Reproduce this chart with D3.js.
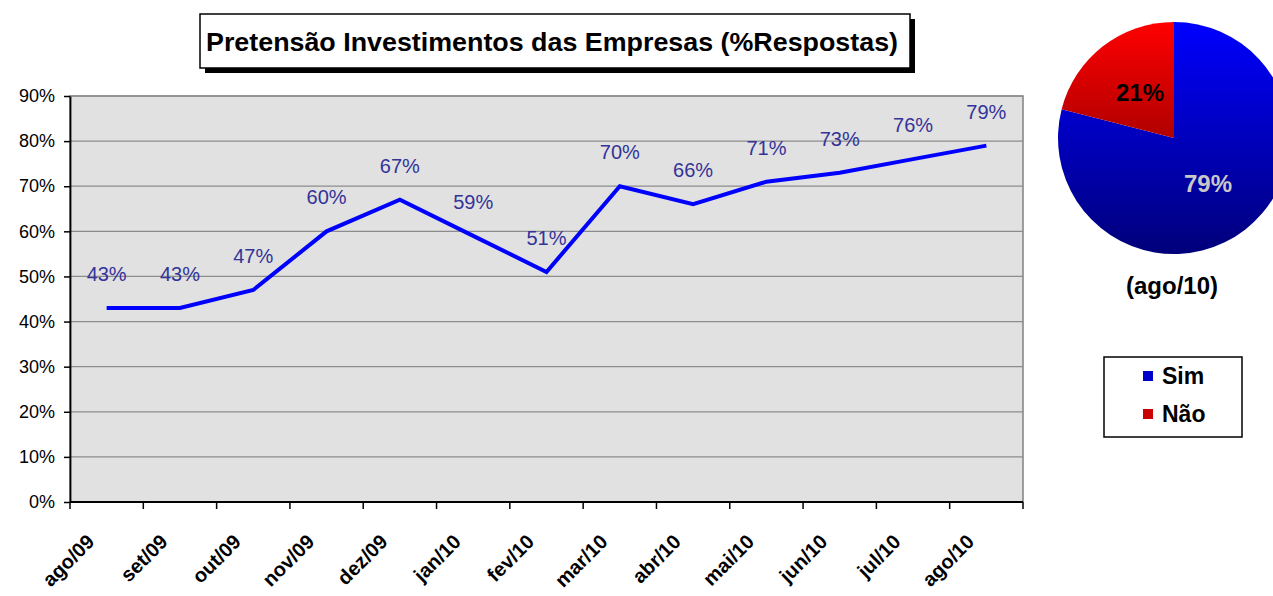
<!DOCTYPE html>
<html>
<head>
<meta charset="utf-8">
<script src="https://cdn.jsdelivr.net/npm/d3@7"></script>
<style>
  body { margin: 0; background: #fff; }
  text { font-family: "Liberation Sans", Arial, sans-serif; }
</style>
</head>
<body>
<svg id="chart"></svg>
<script>
// chart size
const width = 1273;
const height = 596;

// data
const months = ['ago/09', 'set/09', 'out/09', 'nov/09', 'dez/09', 'jan/10', 'fev/10',
                'mar/10', 'abr/10', 'mai/10', 'jun/10', 'jul/10', 'ago/10'];
const values = [43, 43, 47, 60, 67, 59, 51, 70, 66, 71, 73, 76, 79];
const yTicks = [0, 10, 20, 30, 40, 50, 60, 70, 80, 90];
const pieLabels = ['Sim', 'Não'];
const pieValues = [79, 21];

const plot = { left: 70, right: 1023, top: 96, bottom: 502 };

const svg = d3.select('svg#chart').attr('width', width).attr('height', height);

// gradients
const defs = svg.append('defs');
function grad(id, c1, c2, y1, y2) {
    const g = defs.append('linearGradient').attr('id', id)
        .attr('gradientUnits', 'userSpaceOnUse')
        .attr('x1', 0).attr('x2', 0).attr('y1', y1).attr('y2', y2);
    g.append('stop').attr('offset', 0).attr('stop-color', c1);
    g.append('stop').attr('offset', 1).attr('stop-color', c2);
}

//scales
const x = d3.scaleBand().domain(months).range([plot.left, plot.right]);
const y = d3.scaleLinear().domain([0, 90]).range([plot.bottom, plot.top]);

// plot background
svg.append('rect')
    .attr('x', plot.left).attr('y', plot.top)
    .attr('width', plot.right - plot.left).attr('height', plot.bottom - plot.top)
    .attr('fill', '#e1e1e1').attr('stroke', '#808080').attr('stroke-width', 1.5);

// gridlines
svg.append('g').selectAll('line')
    .data(yTicks.slice(1))
    .enter().append('line')
    .attr('x1', plot.left).attr('x2', plot.right)
    .attr('y1', d => y(d)).attr('y2', d => y(d))
    .attr('stroke', '#8c8c8c').attr('stroke-width', 1.2);

// y axis
const yAxis = svg.append('g')
    .attr('transform', `translate(${plot.left},0)`)
    .call(d3.axisLeft(y).tickValues(yTicks).tickFormat(d => d + '%').tickSize(6).tickSizeOuter(0));
yAxis.select('.domain').attr('stroke', '#000').attr('stroke-width', 1.8);
yAxis.selectAll('.tick line').attr('stroke', '#000').attr('stroke-width', 1.5);
yAxis.selectAll('.tick text')
    .attr('font-size', 18).attr('fill', '#000').attr('x', -15)
    .style('font-family', '"Liberation Sans", Arial, sans-serif');

// x axis ticks at band edges
const edges = months.map(m => x(m)).concat([plot.right]);
const xAxis = svg.append('g');
xAxis.append('line')
    .attr('x1', plot.left).attr('x2', plot.right)
    .attr('y1', plot.bottom).attr('y2', plot.bottom)
    .attr('stroke', '#000').attr('stroke-width', 1.8);
xAxis.selectAll('line.tk')
    .data(edges)
    .enter().append('line').attr('class', 'tk')
    .attr('x1', d => d).attr('x2', d => d)
    .attr('y1', plot.bottom).attr('y2', plot.bottom + 7)
    .attr('stroke', '#000').attr('stroke-width', 1.5);
xAxis.selectAll('text')
    .data(months)
    .enter().append('text')
    .attr('transform', d => `translate(${x(d) + x.bandwidth() / 2 - 16},${plot.bottom + 36}) rotate(-45)`)
    .attr('text-anchor', 'end')
    .attr('dy', '0.35em')
    .attr('font-size', 20).attr('font-weight', 'bold')
    .text(d => d);

// line
const line = d3.line()
    .x((d, i) => x(months[i]) + x.bandwidth() / 2)
    .y(d => y(d));
svg.append('path')
    .datum(values)
    .attr('d', line)
    .attr('fill', 'none').attr('stroke', '#0000ff').attr('stroke-width', 4)
    .attr('stroke-linejoin', 'miter');

// data labels
svg.append('g').selectAll('text')
    .data(values)
    .enter().append('text')
    .attr('x', (d, i) => x(months[i]) + x.bandwidth() / 2)
    .attr('y', d => y(d) - 27)
    .attr('text-anchor', 'middle')
    .attr('font-size', 20).attr('fill', '#333399')
    .text(d => d + '%');

// title box
svg.append('rect')
    .attr('x', 205).attr('y', 19).attr('width', 710).attr('height', 54)
    .attr('fill', '#000');
svg.append('rect')
    .attr('x', 200).attr('y', 14).attr('width', 710).attr('height', 54)
    .attr('fill', '#fff').attr('stroke', '#000').attr('stroke-width', 1.5);
svg.append('text')
    .attr('x', 552).attr('y', 51)
    .attr('text-anchor', 'middle')
    .attr('font-size', 26).attr('font-weight', 'bold')
    .attr('textLength', 692).attr('lengthAdjust', 'spacingAndGlyphs')
    .text('Pretensão Investimentos das Empresas (%Respostas)');

// pie
const pc = { x: 1174, y: 138, r: 116 };
grad('gBlue', '#0000ff', '#00007a', pc.y - pc.r, pc.y + pc.r);
grad('gRed', '#ff0000', '#600000', pc.y - pc.r, pc.y + pc.r);
const pie = d3.pie().sort(null)(pieValues);
const pieG = svg.append('g');
// gradient is in user space, so draw the slices in page coords
pieG.selectAll('path')
    .data(pie)
    .enter().append('path')
    .attr('d', d => {
        const p = d3.path();
        const a0 = d.startAngle - Math.PI / 2, a1 = d.endAngle - Math.PI / 2;
        p.moveTo(pc.x, pc.y);
        p.arc(pc.x, pc.y, pc.r, a0, a1);
        p.closePath();
        return p.toString();
    })
    .attr('fill', (d, i) => i === 0 ? 'url(#gBlue)' : 'url(#gRed)');
pieG.selectAll('text')
    .data(pie)
    .enter().append('text')
    .attr('x', (d, i) => i === 0 ? 1208 : 1140)
    .attr('y', (d, i) => i === 0 ? 192 : 101)
    .attr('text-anchor', 'middle')
    .attr('font-size', 24).attr('font-weight', 'bold')
    .attr('fill', (d, i) => i === 0 ? '#c8c8c8' : '#000')
    .text(d => d.data + '%');

svg.append('text')
    .attr('x', 1172).attr('y', 294)
    .attr('text-anchor', 'middle')
    .attr('font-size', 24).attr('font-weight', 'bold')
    .text('(ago/10)');

// legend
const leg = svg.append('g');
leg.append('rect')
    .attr('x', 1104).attr('y', 357).attr('width', 138).attr('height', 80)
    .attr('fill', '#fff').attr('stroke', '#000').attr('stroke-width', 1.5);
const legItems = leg.selectAll('g.item')
    .data(pieLabels)
    .enter().append('g').attr('class', 'item')
    .attr('transform', (d, i) => `translate(1143,${376 + i * 38})`);
legItems.append('rect')
    .attr('x', 0).attr('y', -5).attr('width', 10).attr('height', 10)
    .attr('fill', (d, i) => i === 0 ? '#0000cc' : '#cc0000');
legItems.append('text')
    .attr('x', 19).attr('y', 0).attr('dy', '0.35em')
    .attr('font-size', 23).attr('font-weight', 'bold')
    .text(d => d);
</script>
</body>
</html>
